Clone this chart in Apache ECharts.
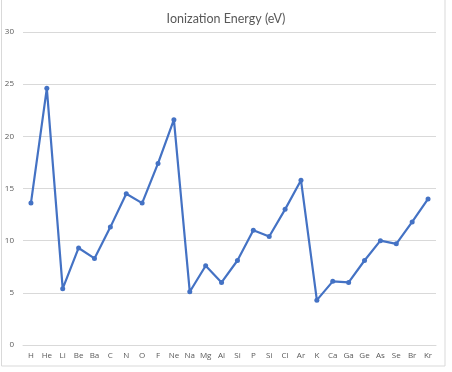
<!DOCTYPE html>
<html><head><meta charset="utf-8">
<script src="https://cdn.jsdelivr.net/npm/echarts@6/dist/echarts.min.js"></script>
<style>html,body{margin:0;padding:0;background:#fff}#c{width:452px;height:372px}</style>
</head><body><div id="c"></div>
<script>
const categories = ["H","He","Li","Be","Ba","C","N","O","F","Ne","Na","Mg","Al","Si","P","Si","Cl","Ar","K","Ca","Ga","Ge","As","Se","Br","Kr"];
const energies = [13.6,24.6,5.4,9.3,8.3,11.3,14.5,13.6,17.4,21.6,5.1,7.6,6.0,8.1,11.0,10.4,13.0,15.8,4.3,6.1,6.0,8.1,10.0,9.7,11.8,14.0];
const yTicks = {min:0, max:30, interval:5};
const chart = echarts.init(document.getElementById('c'), null, {renderer:'canvas'});
chart.setOption({
  animation:false,
  title:{text:'Ionization Energy (eV)', left:'center', top:7, textStyle:{fontFamily:'Lato', fontSize:12.5, fontWeight:'normal', color:'#595959'}},
  graphic:[{type:'rect', shape:{x:1.5,y:-1,width:443.5,height:367}, style:{fill:'none', stroke:'#d9d9d9', lineWidth:1}, silent:true}],
  grid:{left:23, right:16, top:32, bottom:27},
  xAxis:{type:'category', data:categories, boundaryGap:true,
    axisLine:{show:true, lineStyle:{color:'#d9d9d9', width:1}}, axisTick:{show:false},
    axisLabel:{interval:0, fontSize:8, color:'#595959', fontFamily:'Open Sans', margin:7}},
  yAxis:{type:'value', min:yTicks.min, max:yTicks.max, interval:yTicks.interval,
    axisLine:{show:false}, axisTick:{show:false},
    splitLine:{lineStyle:{color:'#d9d9d9', width:1}},
    axisLabel:{fontSize:8, color:'#595959', fontFamily:'Open Sans', margin:9}},
  series:[{type:'line', data:energies, symbol:'circle', symbolSize:5,
    lineStyle:{color:'#4472C4', width:2.2}, itemStyle:{color:'#4472C4'}}]
});
</script></body></html>
